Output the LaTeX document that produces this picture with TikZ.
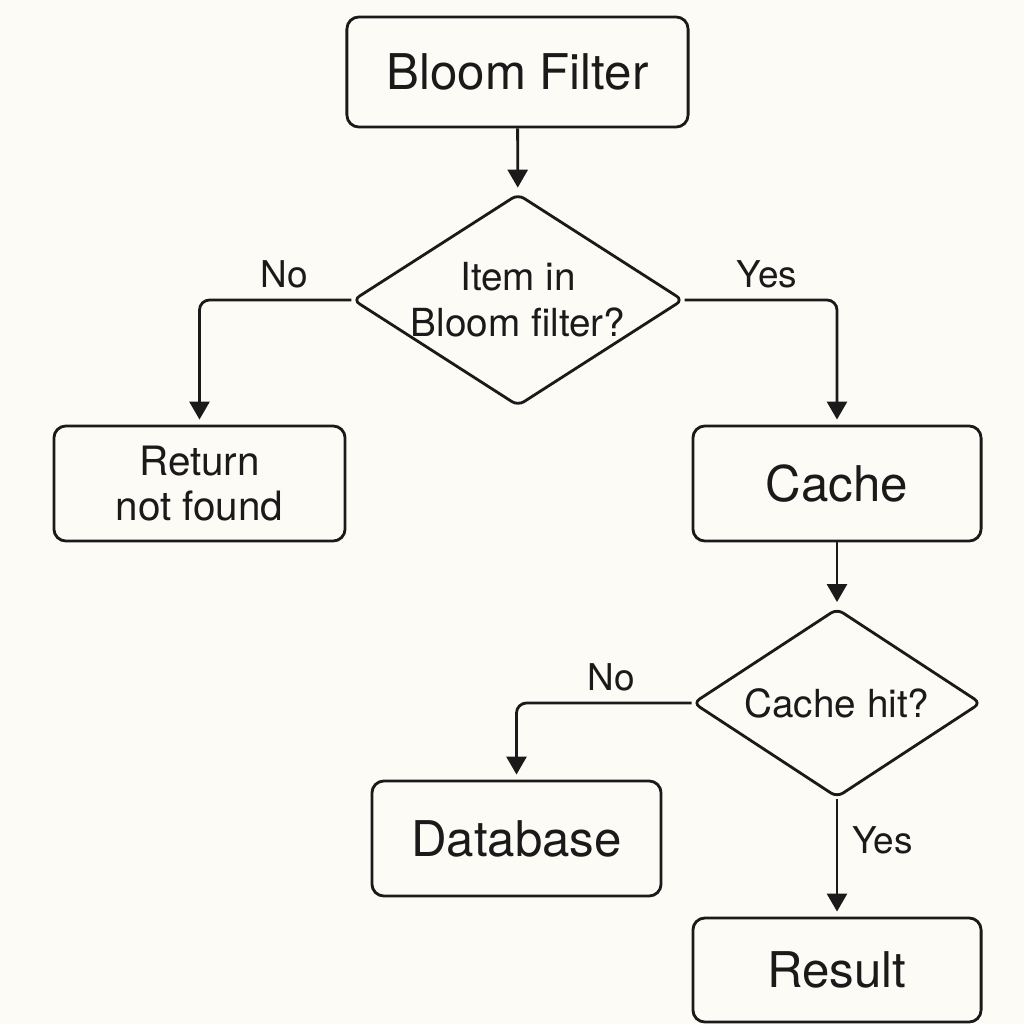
\documentclass[tikz,border=0pt]{standalone}
\usepackage{fontspec}
\setmainfont{TeX Gyre Heros}
\usepackage{xcolor}
\usetikzlibrary{arrows.meta,positioning,shapes.geometric}
\definecolor{fundo}{HTML}{FDFBF6}
\definecolor{traco}{HTML}{1A1A1A}
\tikzset{
    etapa/.style={
        rectangle,
        draw=traco,
        line width=0.8pt,
        rounded corners=0.12cm,
        align=center,
        text=traco,
        inner sep=0pt
    },
    titulo/.style={etapa, font=\fontsize{14}{17}\selectfont},
    texto/.style={etapa, font=\fontsize{11.5}{13}\selectfont},
    pergunta/.style={
        diamond,
        draw=traco,
        line width=0.8pt,
        rounded corners=2pt,
        align=center,
        text=traco,
        inner sep=0pt,
        font=\fontsize{11}{13}\selectfont
    },
    fluxo/.style={-{Triangle[length=1.8mm,width=2mm]}, draw=traco,
        line width=0.8pt, rounded corners=0.1cm, shorten >=0.5mm},
    rotulo/.style={text=traco, font=\fontsize{10.5}{12}\selectfont, inner sep=3pt}
}

\begin{document}
\begin{tikzpicture}[x=0.01cm, y=-0.01cm]
        \fill[fundo] (0,0) rectangle (1024,1024);
        \useasboundingbox (0,0) rectangle (1024,1024);

        \node[titulo, minimum width=3.41cm, minimum height=1.10cm] (bloom) at (517.5,72) {Bloom Filter};
        \node[pergunta, aspect=1.557, minimum width=3.27cm, minimum height=2.10cm] (nofiltro) at (518,300) {Item in\\Bloom filter?};
        \node[texto, minimum width=2.91cm, minimum height=1.15cm] (naoachado) at (199.5,483.5) {Return\\not found};
        \node[titulo, minimum width=2.88cm, minimum height=1.15cm] (cache) at (837,483.5) {Cache};
        \node[pergunta, aspect=1.52, minimum width=2.88cm, minimum height=1.89cm] (acerto) at (837,703) {Cache hit?};
        \node[titulo, minimum width=2.89cm, minimum height=1.15cm] (banco) at (516.5,838.5) {Database};
        \node[titulo, minimum width=2.88cm, minimum height=1.04cm] (resultado) at (837,970) {Result};

        \draw[fluxo] (bloom) -- (nofiltro);
        \draw[fluxo] (nofiltro.west) -| node[rotulo, pos=0.22, above] {No} (naoachado.north);
        \draw[fluxo] (nofiltro.east) -| node[rotulo, pos=0.27, above] {Yes} (cache.north);
        \draw[fluxo] (cache) -- (acerto);
        \draw[fluxo] (acerto.west) -| node[rotulo, pos=0.23, above] {No} (banco.north);
        \draw[fluxo] (acerto.south) -- node[rotulo, pos=0.35, right=1pt] {Yes} (resultado.north);
    \end{tikzpicture}
\end{document}
